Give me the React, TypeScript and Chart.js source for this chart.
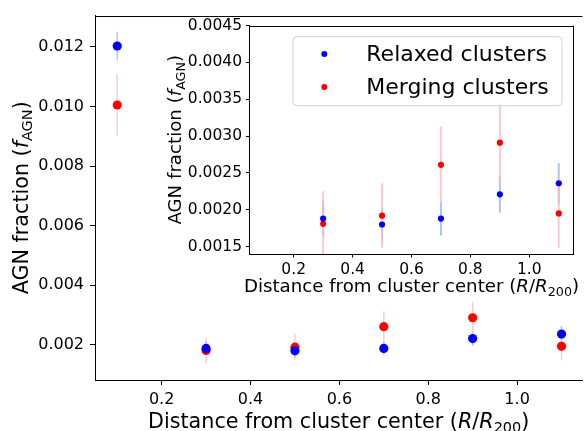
import React, { useEffect, useRef } from "react";
import { Chart, registerables } from "chart.js";

Chart.register(...registerables);

// ---- data ----
const distances = [0.1, 0.3, 0.5, 0.7, 0.9, 1.1];
const relaxedFrac = [0.01203, 0.00188, 0.0018, 0.00188, 0.00221, 0.00236];
const relaxedErr = [0.00048, 0.00024, 0.00023, 0.00023, 0.00025, 0.00027];
const mergingFrac = [0.01005, 0.00181, 0.00192, 0.00261, 0.00291, 0.00195];
const mergingErr = [0.00103, 0.00044, 0.00044, 0.00052, 0.00052, 0.00047];
const seriesNames = ["Relaxed clusters", "Merging clusters"];

const mainXTicks = [0.2, 0.4, 0.6, 0.8, 1.0];
const mainYTicks = [0.002, 0.004, 0.006, 0.008, 0.01, 0.012];
const insetXTicks = [0.2, 0.4, 0.6, 0.8, 1.0];
const insetYTicks = [0.0015, 0.002, 0.0025, 0.003, 0.0035, 0.004, 0.0045];

type Part = { t: string; italic?: boolean; sub?: boolean };
const xTitle: Part[] = [
  { t: "Distance from cluster center (" },
  { t: "R", italic: true },
  { t: "/" },
  { t: "R", italic: true },
  { t: "200", sub: true },
  { t: ")" },
];
const yTitle: Part[] = [
  { t: "AGN fraction (" },
  { t: "f", italic: true },
  { t: "AGN", sub: true },
  { t: ")" },
];

const FONT = '"DejaVu Sans"';
const COLORS = ["#0000ff", "#ff0000"];
const ERR_COLORS = ["rgba(100,149,237,0.55)", "rgba(255,182,193,0.75)"];

function drawRich(
  ctx: CanvasRenderingContext2D,
  parts: Part[],
  size: number,
  x: number,
  y: number,
  rotated: boolean
) {
  ctx.save();
  ctx.translate(x, y);
  if (rotated) ctx.rotate(-Math.PI / 2);
  ctx.fillStyle = "#000";
  ctx.textBaseline = "alphabetic";
  ctx.textAlign = "left";
  const fontOf = (p: Part) =>
    `${p.italic ? "italic " : ""}${p.sub ? size * 0.7 : size}px ${FONT}`;
  let total = 0;
  for (const p of parts) {
    ctx.font = fontOf(p);
    total += ctx.measureText(p.t).width;
  }
  let cx = -total / 2;
  for (const p of parts) {
    ctx.font = fontOf(p);
    ctx.fillText(p.t, cx, p.sub ? size * 0.22 : 0);
    cx += ctx.measureText(p.t).width;
  }
  ctx.restore();
}

const errorBarPlugin = {
  id: "errorBars",
  beforeDatasetsDraw(chart: any, _args: any, opts: any) {
    const { ctx, chartArea, scales } = chart;
    const xs = scales.x;
    const ys = scales.y;
    ctx.save();
    ctx.beginPath();
    ctx.rect(chartArea.left, chartArea.top, chartArea.right - chartArea.left, chartArea.bottom - chartArea.top);
    ctx.clip();
    ctx.lineWidth = opts.width || 1.5;
    chart.data.datasets.forEach((ds: any) => {
      ctx.strokeStyle = ds.errorColor;
      ds.data.forEach((p: any) => {
        const px = xs.getPixelForValue(p.x);
        ctx.beginPath();
        ctx.moveTo(px, ys.getPixelForValue(p.y - p.err));
        ctx.lineTo(px, ys.getPixelForValue(p.y + p.err));
        ctx.stroke();
      });
    });
    ctx.restore();
  },
};

const framePlugin = {
  id: "frame",
  beforeDraw(chart: any, _a: any, opts: any) {
    if (!opts.fill) return;
    const { ctx, chartArea: c } = chart;
    ctx.save();
    ctx.fillStyle = "#fff";
    ctx.fillRect(c.left, c.top, c.right - c.left, c.bottom - c.top);
    ctx.restore();
  },
  afterDraw(chart: any, _a: any, opts: any) {
    const { ctx, chartArea: c } = chart;
    ctx.save();
    ctx.strokeStyle = "#000";
    ctx.lineWidth = 1;
    ctx.beginPath();
    ctx.moveTo(c.left, Math.round(c.top) + 0.5);
    ctx.lineTo(c.right, Math.round(c.top) + 0.5);
    if (opts.right) {
      ctx.moveTo(Math.round(c.right) - 0.5, c.top);
      ctx.lineTo(Math.round(c.right) - 0.5, c.bottom);
    }
    ctx.stroke();
    // axis titles
    drawRich(ctx, xTitle, opts.titleSize, (c.left + c.right) / 2, opts.xTitleY, false);
    drawRich(ctx, yTitle, opts.titleSize, opts.yTitleX, (c.top + c.bottom) / 2, true);
    // legend
    if (opts.legend) {
      const w = 269, h = 69;
      const bx = c.right - 11.5 - w;
      const by = c.top + 11.2;
      ctx.beginPath();
      const r = 4;
      ctx.moveTo(bx + r, by);
      ctx.arcTo(bx + w, by, bx + w, by + h, r);
      ctx.arcTo(bx + w, by + h, bx, by + h, r);
      ctx.arcTo(bx, by + h, bx, by, r);
      ctx.arcTo(bx, by, bx + w, by, r);
      ctx.closePath();
      ctx.fillStyle = "rgba(255,255,255,0.8)";
      ctx.fill();
      ctx.strokeStyle = "#d0d0d0";
      ctx.lineWidth = 1;
      ctx.stroke();
      ctx.font = `22px ${FONT}`;
      ctx.textBaseline = "middle";
      ctx.textAlign = "left";
      seriesNames.forEach((name, i) => {
        const cy = by + 17.3 + i * 33;
        ctx.fillStyle = COLORS[i];
        ctx.beginPath();
        ctx.arc(bx + 31.3, cy, 3, 0, Math.PI * 2);
        ctx.fill();
        ctx.fillStyle = "#000";
        ctx.fillText(name, bx + 73.3, cy + 1);
      });
    }
    ctx.restore();
  },
};

function makeDatasets(radius: number) {
  return [
    {
      label: seriesNames[0],
      data: distances.map((x, i) => ({ x, y: relaxedFrac[i], err: relaxedErr[i] })),
      backgroundColor: COLORS[0],
      pointRadius: radius,
      pointBorderWidth: 0,
      errorColor: ERR_COLORS[0],
    },
    {
      label: seriesNames[1],
      data: distances.map((x, i) => ({ x, y: mergingFrac[i], err: mergingErr[i] })),
      backgroundColor: COLORS[1],
      pointRadius: radius,
      pointBorderWidth: 0,
      errorColor: ERR_COLORS[1],
    },
  ];
}

function axis(
  min: number,
  max: number,
  ticks: number[],
  digits: number,
  fontSize: number,
  tickLength: number,
  padding: number,
  size: number,
  isX: boolean
) {
  return {
    type: "linear",
    min,
    max,
    afterBuildTicks: (s: any) => {
      s.ticks = ticks.map((v) => ({ value: v }));
    },
    afterFit: (s: any) => {
      if (isX) s.height = size;
      else s.width = size;
    },
    grid: { display: true, drawOnChartArea: false, drawTicks: true, tickLength, color: "#000", lineWidth: 1 },
    border: { display: true, color: "#000", width: 1 },
    ticks: {
      color: "#000",
      font: { family: "DejaVu Sans", size: fontSize },
      padding,
      maxRotation: 0,
      autoSkip: false,
      callback: (v: any) => Number(v).toFixed(digits),
    },
  };
}

export default function App() {
  const mainRef = useRef<HTMLCanvasElement>(null);
  const insetRef = useRef<HTMLCanvasElement>(null);

  useEffect(() => {
    const main = new Chart(mainRef.current as HTMLCanvasElement, {
      type: "scatter",
      data: { datasets: makeDatasets(4.6) as any },
      plugins: [errorBarPlugin, framePlugin],
      options: {
        animation: false,
        responsive: false,
        maintainAspectRatio: false,
        layout: { padding: { top: 12, left: 0, right: 0, bottom: 0 } },
        plugins: {
          legend: { display: false },
          tooltip: { enabled: false },
          errorBars: { width: 1.4 },
          frame: { titleSize: 20.7, xTitleY: 427.5, yTitleX: 27.5, right: false, legend: false, fill: false },
        } as any,
        scales: {
          x: axis(0.05, 1.147, mainXTicks, 1, 16, 5, 5, 51, true),
          y: axis(0.00082, 0.01305, mainYTicks, 3, 16, 5, 6, 95, false),
        } as any,
      },
    });
    const inset = new Chart(insetRef.current as HTMLCanvasElement, {
      type: "scatter",
      data: { datasets: makeDatasets(3.1) as any },
      plugins: [errorBarPlugin, framePlugin],
      options: {
        animation: false,
        responsive: false,
        maintainAspectRatio: false,
        layout: { padding: { top: 25.5, left: 0, right: 13.5, bottom: 0 } },
        plugins: {
          legend: { display: false },
          tooltip: { enabled: false },
          errorBars: { width: 2 },
          frame: { titleSize: 18.2, xTitleY: 291.5, yTitleX: 20.5, right: true, legend: true, fill: true },
        } as any,
        scales: {
          x: axis(0.05, 1.15, insetXTicks, 1, 15.5, 3.5, 3, 46, true),
          y: axis(0.0014, 0.0045, insetYTicks, 4, 15.5, 3.5, 4, 89.5, false),
        } as any,
      },
    });
    return () => {
      main.destroy();
      inset.destroy();
    };
  }, []);

  return (
    <div style={{ position: "absolute", left: 0, top: 0, width: 587, height: 431, overflow: "hidden", background: "#fff" }}>
      <canvas ref={mainRef} width={587} height={431} style={{ position: "absolute", left: 0, top: 0, display: "block" }} />
      <canvas ref={insetRef} width={427} height={300} style={{ position: "absolute", left: 160, top: 0, display: "block" }} />
    </div>
  );
}
